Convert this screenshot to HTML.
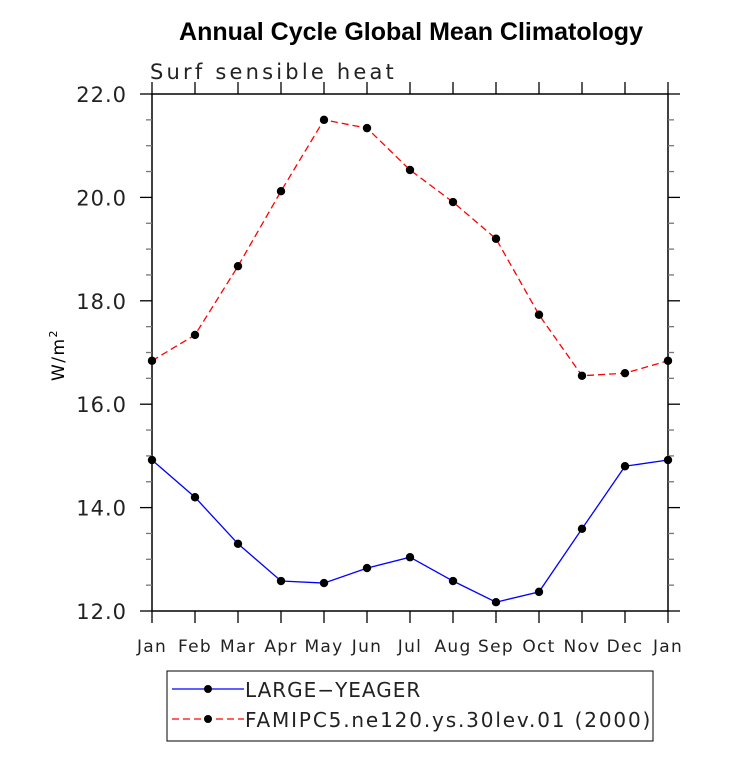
<!DOCTYPE html>
<html><head><meta charset="utf-8"><style>
html,body{margin:0;padding:0;background:#fff;}
</style></head><body>
<svg id="chart" width="733" height="760" xmlns="http://www.w3.org/2000/svg" font-family="DejaVu Sans, sans-serif">
<text x="411" y="40" text-anchor="middle" font-size="25" font-weight="bold" font-family="Liberation Sans, sans-serif">Annual Cycle Global Mean Climatology</text>
<text x="150" y="79" font-size="21" letter-spacing="3.2" fill="#222">Surf sensible heat</text>
<text transform="translate(64,355) rotate(-90)" text-anchor="middle" font-size="17" letter-spacing="1.5">W/m<tspan dy="-7" font-size="11">2</tspan></text>
<g id="axes"></g>
<g id="series"></g>
<rect x="167" y="671" width="486" height="70" fill="none" stroke="#000" stroke-width="1"/>
<g>
<line x1="172" y1="689" x2="244" y2="689" stroke="#0000ff" stroke-width="1.2"/>
<circle cx="208" cy="689" r="4" fill="#000"/>
<text x="245" y="697" font-size="20" letter-spacing="1" fill="#222">LARGE−YEAGER</text>
</g>
<g>
<line x1="172" y1="719" x2="244" y2="719" stroke="#ff0000" stroke-width="1.2" stroke-dasharray="7,4"/>
<circle cx="208" cy="719" r="4" fill="#000"/>
<text x="245" y="727" font-size="20" letter-spacing="1.85" fill="#222">FAMIPC5.ne120.ys.30lev.01 (2000)</text>
</g>
</svg>
<script>
const months = ["Jan","Feb","Mar","Apr","May","Jun","Jul","Aug","Sep","Oct","Nov","Dec","Jan"];
const largeYeager = [14.92,14.20,13.30,12.58,12.54,12.83,13.04,12.58,12.17,12.37,13.59,14.80,14.92];
const famipc5 = [16.84,17.34,18.67,20.12,21.50,21.34,20.53,19.91,19.20,17.73,16.55,16.60,16.84];
const yTickLabels = ["12.0","14.0","16.0","18.0","20.0","22.0"];
const yMin = 12, yMax = 22;

const NS="http://www.w3.org/2000/svg";
const L=152,R=668,T=94,B=611;
const xs=i=>L+(R-L)*i/(months.length-1);
const ys=v=>B-(B-T)*(v-yMin)/(yMax-yMin);
function mk(tag,attrs,parent){const e=document.createElementNS(NS,tag);for(const k in attrs)e.setAttribute(k,attrs[k]);parent.appendChild(e);return e;}
const ax=document.getElementById('axes');
const frame=mk('rect',{x:L,y:T,width:R-L,height:B-T,fill:'none',stroke:'#000','stroke-width':1.5},ax);


months.forEach((m,i)=>{
  const x=xs(i);
  mk('line',{x1:x,y1:B,x2:x,y2:B+12,stroke:'#000','stroke-width':1.3},ax);
  mk('line',{x1:x,y1:T,x2:x,y2:T-12,stroke:'#000','stroke-width':1.3},ax);
  const t=mk('text',{x:x,y:B+41,'text-anchor':'middle','font-size':17,'letter-spacing':1.3,fill:'#222'},ax);
  t.textContent=m;
  
  
});
for(let v=yMin;v<=yMax+1e-9;v+=0.5){
  const y=ys(v);const major=Math.abs(v%2)<1e-9;const len=major?12:6;
  mk('line',{x1:L,y1:y,x2:L-len,y2:y,stroke:major?'#000':'#777','stroke-width':1.3},ax);
  mk('line',{x1:R,y1:y,x2:R+len,y2:y,stroke:major?'#000':'#777','stroke-width':1.3},ax);
}
yTickLabels.forEach(s=>{
  const v=parseFloat(s);
  const t=mk('text',{x:L-25,y:ys(v)+8,'text-anchor':'end','font-size':21,'letter-spacing':1,fill:'#222'},ax);
  t.textContent=s;
  
  
});
const sg=document.getElementById('series');
function drawSeries(vals,color,dash,name){
  const g=mk('g',{},sg);
  
  
  const pts=vals.map((v,i)=>xs(i)+','+ys(v)).join(' ');
  const a={points:pts,fill:'none',stroke:color,'stroke-width':1.3};
  if(dash)a['stroke-dasharray']=dash;
  mk('polyline',a,g);
  vals.forEach((v,i)=>{
    const c=mk('circle',{cx:xs(i),cy:ys(v),r:4.2,fill:'#000'},g);
    
    
  });
}
drawSeries(largeYeager,'#0000ff',null,'series-large-yeager');
drawSeries(famipc5,'#ff0000','7,4','series-famipc5');
</script>
</body></html>
